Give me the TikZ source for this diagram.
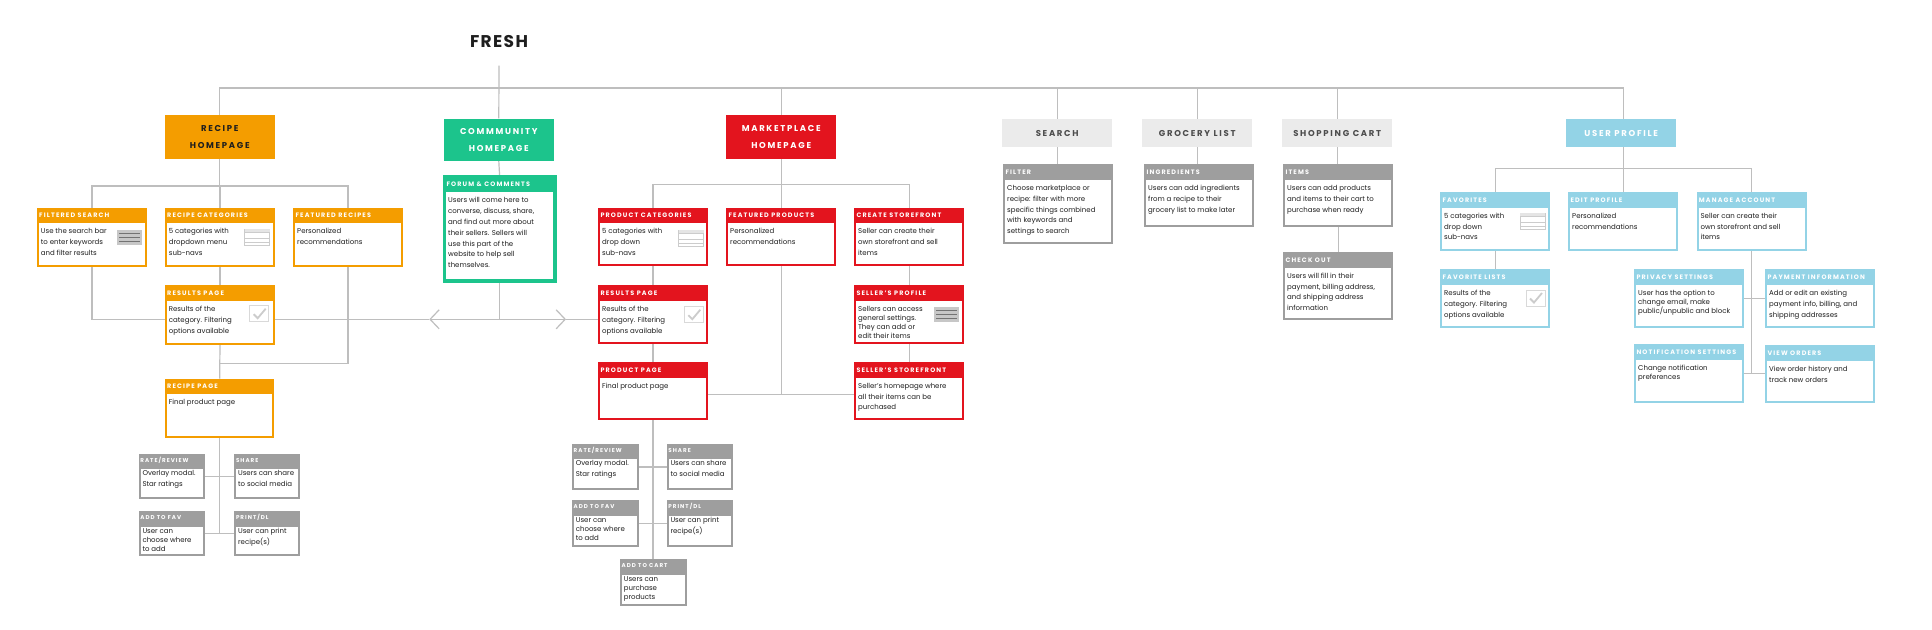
\documentclass[tikz,border=0pt]{standalone}
\usepackage{fontspec}
\setmainfont{Poppins}
\newfontfamily\hdfont[LetterSpace=18]{Poppins}
\newfontfamily\navfont[LetterSpace=20]{Poppins}
\newfontfamily\brandfont[LetterSpace=8]{Poppins}
\usetikzlibrary{positioning}
\usetikzlibrary{arrows.meta}
\usetikzlibrary{backgrounds}
\definecolor{fshorange}{HTML}{F49D00}
\definecolor{fshgreen}{HTML}{1CC48C}
\definecolor{fshred}{HTML}{E3141E}
\definecolor{fshblue}{HTML}{93D3E6}
\definecolor{fshgray}{HTML}{9E9E9E}
\definecolor{fshlight}{HTML}{EBEBEB}
\definecolor{fshline}{HTML}{BEBEBE}
\definecolor{fshtext}{HTML}{1E1E1E}

\newcommand\bodyfont{\fontsize{7}{10.8}\selectfont}
\newcommand\tightfont{\fontsize{7}{9}\selectfont}
\newcommand\cardtitlefont{\hdfont\bfseries\fontsize{6.4}{7}\selectfont}
\newcommand\tinytitlefont{\hdfont\bfseries\fontsize{5.6}{6}\selectfont}
\newcommand\homefont{\navfont\bfseries\fontsize{8.5}{16.8}\selectfont}

% name, colour, x, y, width, height (outer, in px), title, body
\newcommand\bigcard[9][]{%
  \node[card=#3, minimum width=#6pt-2pt, minimum height=#7pt-2pt] (#2) at (#4+1,#5+1) {};
  \node[cardtitle] (#2-t) at ([shift={(2,10)}]#2.north west) {#8};
  \node[cardbody,#1] (#2-b) at ([shift={(3.7,20)}]#2.north west) {\rule{0pt}{6pt}#9};
}
\newcommand\smallcard[9][]{%
  \node[card=#3, minimum width=#6pt-2pt, minimum height=#7pt-2pt] (#2) at (#4+1,#5+1) {};
  \node[cardtitle, font=\tinytitlefont] (#2-t) at ([shift={(1.5,8.3)}]#2.north west) {#8};
  \node[cardbody,#1] (#2-b) at ([shift={(3.6,16)}]#2.north west) {\rule{0pt}{6pt}#9};
}

\begin{document}
\begin{tikzpicture}[%
  x=1pt, y=-1pt,
  chev/.tip={Straight Barb[length=9pt, width=19pt]},
  link/.style={draw=fshline, line width=1.2pt},
  homebox/.style={fill=#1, anchor=north west, inner sep=0pt, align=center,
    minimum width=110pt, font=\homefont},
  card/.style={draw=#1, fill=white, line width=2pt, anchor=north west, inner sep=0pt,
    path picture={\fill[#1] (path picture bounding box.north west)
      rectangle ([yshift=-14.6pt]path picture bounding box.north east);}},
  cardtitle/.style={anchor=base west, inner sep=0pt, text=white, font=\cardtitlefont},
  cardbody/.style={anchor=north west, inner sep=0pt, align=left, text=fshtext, font=\bodyfont},
  baricon/.pic={
    \fill[black!22] (0,0) rectangle (25,15);
    \draw[black!55, line width=1.4pt] (2,3.5) -- (23,3.5) (2,7.5) -- (23,7.5) (2,11.5) -- (23,11.5);
  },
  tableicon/.pic={
    \draw[black!20, line width=0.8pt, fill=white] (0,0) rectangle (25,16);
    \fill[black!10] (0,0) rectangle (25,3.5);
    \draw[black!20, line width=0.8pt] (0,3.5) -- (25,3.5) (0,9) -- (25,9) (0,13) -- (25,13);
  },
  checkicon/.pic={
    \draw[black!15, line width=1pt] (0,0) rectangle (19,16);
    \draw[black!20, line width=1.8pt] (4,8.5) -- (8,12.5) -- (16,3);
  },
]
  \useasboundingbox (0,0) rectangle (1932,629);

  \node[font=\brandfont\bfseries\fontsize{17}{20}\selectfont, text=fshtext] (fresh) at (499,42) {FRESH};

  \node[homebox=fshorange, minimum height=43.3pt, text=fshtext] (recipehome) at (164.6,115) {RECIPE\\HOMEPAGE};
  \node[homebox=fshgreen, minimum height=42.4pt, text=white] (commhome) at (443.6,118.3) {COMMMUNITY\\HOMEPAGE};
  \node[homebox=fshred, minimum height=43.3pt, text=white] (markethome) at (726,115) {MARKETPLACE\\HOMEPAGE};
  \node[homebox=fshlight, minimum height=27.7pt, text=black!70] (search) at (1002,119) {SEARCH};
  \node[homebox=fshlight, minimum height=27.7pt, text=black!70] (grocery) at (1142,119) {GROCERY LIST};
  \node[homebox=fshlight, minimum height=27.7pt, text=black!70] (cart) at (1282,119) {SHOPPING CART};
  \node[homebox=fshblue, minimum height=27.7pt, text=white] (userhome) at (1566,119) {USER PROFILE};

  \bigcard{fsearch}{fshorange}{36}{206.7}{110}{59.3}{FILTERED SEARCH}{Use the search bar\\to enter keywords\\and filter results}
  \bigcard{rcats}{fshorange}{164}{206.7}{110}{59.3}{RECIPE CATEGORIES}{5 categories with\\dropdown menu\\sub-navs}
  \bigcard{frecipes}{fshorange}{292.3}{206.7}{109.4}{59.3}{FEATURED RECIPES}{Personalized\\recommendations}
  \bigcard{rresults}{fshorange}{164}{284.3}{110}{59.7}{RESULTS PAGE}{Results of the\\category. Filtering\\options available}
  \bigcard{rpage}{fshorange}{164}{377.7}{109.3}{59}{RECIPE PAGE}{Final product page}
  \smallcard{rrate}{fshgray}{137.7}{452.7}{66.3}{45.6}{RATE/REVIEW}{Overlay modal.\\Star ratings}
  \smallcard{rshare}{fshgray}{233.3}{452.7}{65.7}{45.6}{SHARE}{Users can share\\to social media}
  \smallcard[font=\tightfont]{rfav}{fshgray}{137.7}{510}{66.3}{45}{ADD TO FAV}{User can\\choose where\\to add}
  \smallcard{rprint}{fshgray}{233.3}{510}{65.7}{45}{PRINT/DL}{User can print\\recipe(s)}

  \bigcard{forum}{fshgreen}{443.3}{175.7}{110.7}{104.3}{FORUM \& COMMENTS}{Users will come here to\\converse, discuss, share,\\and find out more about\\their sellers. Sellers will\\use this part of the\\website to help sell\\themselves.}
  \draw[fshgreen, line width=3pt] (forum.north west) rectangle (forum.south east);

  \bigcard{mcats}{fshred}{597.3}{206.7}{109.4}{58.3}{PRODUCT CATEGORIES}{5 categories with\\drop down\\sub-navs}
  \bigcard{mfeat}{fshred}{725.3}{206.7}{109.7}{58.3}{FEATURED PRODUCTS}{Personalized\\recommendations}
  \bigcard{mcreate}{fshred}{853.3}{206.7}{110}{58.3}{CREATE STOREFRONT}{Seller can create their\\own storefront and sell\\items}
  \bigcard{mresults}{fshred}{597.3}{284.3}{109.4}{58.4}{RESULTS PAGE}{Results of the\\category. Filtering\\options available}
  \bigcard{mpage}{fshred}{597.3}{361}{109.4}{58.3}{PRODUCT PAGE}{Final product page}
  \bigcard[font=\tightfont]{mprofile}{fshred}{853.3}{284.3}{110}{58.4}{SELLER’S PROFILE}{Sellers can access\\general settings.\\They can add or\\edit their items}
  \bigcard{mstore}{fshred}{853.3}{361}{110}{58.3}{SELLER’S STOREFRONT}{Seller’s homepage where\\all their items can be\\purchased}
  \smallcard{mrate}{fshgray}{571}{442.7}{66.7}{46.6}{RATE/REVIEW}{Overlay modal.\\Star ratings}
  \smallcard{mshare}{fshgray}{665.7}{442.7}{66.6}{46.6}{SHARE}{Users can share\\to social media}
  \smallcard[font=\tightfont]{mfav}{fshgray}{571}{499.3}{66.7}{46.7}{ADD TO FAV}{User can\\choose where\\to add}
  \smallcard{mprint}{fshgray}{665.7}{499.3}{66.6}{46.7}{PRINT/DL}{User can print\\recipe(s)}
  \smallcard[font=\tightfont]{madd}{fshgray}{619}{558.3}{66.7}{46.7}{ADD TO CART}{Users can\\purchase\\products}

  \bigcard{filter}{fshgray}{1002.3}{163.3}{110}{79.4}{FILTER}{Choose marketplace or\\recipe: filter with more\\specific things combined\\with keywords and\\settings to search}
  \bigcard{ingred}{fshgray}{1143.3}{163.3}{110}{62.4}{INGREDIENTS}{Users can add ingredients\\from a recipe to their\\grocery list to make later}
  \bigcard{items}{fshgray}{1282.3}{163.3}{110}{62.4}{ITEMS}{Users can add products\\and items to their cart to\\purchase when ready}
  \bigcard{checkout}{fshgray}{1282.3}{251}{110}{68.3}{CHECK OUT}{Users will fill in their\\payment, billing address,\\and shipping address\\information}

  \bigcard{ufav}{fshblue}{1439.3}{191}{110}{59}{FAVORITES}{5 categories with\\drop down\\sub-navs}
  \bigcard{uedit}{fshblue}{1567.3}{191}{110}{59}{EDIT PROFILE}{Personalized\\recommendations}
  \bigcard{umanage}{fshblue}{1695.7}{191}{110}{59}{MANAGE ACCOUNT}{Seller can create their\\own storefront and sell\\items}
  \bigcard{ulists}{fshblue}{1439.3}{268.3}{110}{59}{FAVORITE LISTS}{Results of the\\category. Filtering\\options available}
  \bigcard[font=\tightfont]{uprivacy}{fshblue}{1633.3}{268.3}{109.4}{59}{PRIVACY SETTINGS}{User has the option to\\change email, make\\public/unpublic and block}
  \bigcard{upay}{fshblue}{1764.3}{268.3}{109.7}{59}{PAYMENT INFORMATION}{Add or edit an existing\\payment info, billing, and\\shipping addresses}
  \bigcard[font=\tightfont]{unotif}{fshblue}{1633.3}{343.3}{109.4}{59}{NOTIFICATION SETTINGS}{Change notification\\preferences}
  \bigcard{uorders}{fshblue}{1764.3}{344}{109.7}{58.3}{VIEW ORDERS}{View order history and\\track new orders}

  \pic at ([shift={(-30,22.3)}]fsearch.north east) {baricon};
  \pic at ([shift={(-30.3,21.3)}]rcats.north east) {tableicon};
  \pic at ([shift={(-25.3,20.4)}]rresults.north east) {checkicon};
  \pic at ([shift={(-29,22.3)}]mcats.north east) {tableicon};
  \pic at ([shift={(-23.4,21.4)}]mresults.north east) {checkicon};
  \pic at ([shift={(-30,21.4)}]mprofile.north east) {baricon};
  \pic at ([shift={(-30,21.3)}]ufav.north east) {tableicon};
  \pic at ([shift={(-24.3,20.7)}]ulists.north east) {checkicon};

  \coordinate (topbus) at (0,88);
  \coordinate (recbus) at (0,186);
  \coordinate (mktbus) at (0,184.3);
  \coordinate (usrbus) at (0,168.3);
  \coordinate (midline) at (0,319.3);
  \coordinate (featjoin) at (0,363.3);
  \coordinate (mktjoin) at (0,394.3);
  \coordinate (chevL) at (429.3,319.3);
  \coordinate (chevR) at (566,319.3);

  \begin{scope}[on background layer]
    \fill[white] (0,0) rectangle (1932,629);

    \draw[link] ([yshift=-14pt]fresh.south) -- (commhome.north);
    \draw[link] (recipehome.north) -- (recipehome.north |- topbus) -- (uedit.north |- topbus) -- (uedit.north |- userhome.north);
    \draw[link] (markethome.north) -- (markethome.north |- topbus);
    \draw[link] (search.north) -- (search.north |- topbus);
    \draw[link] (grocery.north) -- (grocery.north |- topbus);
    \draw[link] (cart.north) -- (cart.north |- topbus);

    \draw[link] (recipehome.south) -- (recipehome.south |- recbus);
    \draw[link] (fsearch.north) -- (fsearch.north |- recbus) -- (frecipes.north |- recbus) -- (frecipes.north);
    \draw[link] (rcats.north) -- (rcats.north |- recbus);
    \draw[link] (rcats.south) -- (rresults.north);
    \draw[link] (rresults.south) -- (rpage.north);
    \draw[link] (fsearch.south) |- (rresults.west |- midline);
    \draw[link] (frecipes.south) |- (rpage.north |- featjoin);
    \draw[link] (rpage.south) -- (rpage.south |- rfav.east);
    \draw[link] (rrate.east) -- (rshare.west);
    \draw[link] (rfav.east) -- (rprint.west);

    \draw[link] (commhome.south) -- (forum.north);
    \draw[link] (forum.south) -- (forum.south |- midline);
    \draw[link] (rresults.east |- midline) -- (chevL);
    \draw[link, {chev}-{chev}] (chevL) -- (chevR);
    \draw[link] (chevR) -- (mresults.west |- midline);

    \draw[link] (markethome.south) -- (markethome.south |- mfeat.north);
    \draw[link] (mcats.north) -- (mcats.north |- mktbus) -- (mcreate.north |- mktbus) -- (mcreate.north);
    \draw[link] (mcats.south) -- (mresults.north);
    \draw[link] (mresults.south) -- (mpage.north);
    \draw[link] (mcreate.south) -- (mprofile.north);
    \draw[link] (mprofile.south) -- (mstore.north);
    \draw[link] (mfeat.south) -- (mfeat.south |- mktjoin);
    \draw[link] (mpage.east |- mktjoin) -- (mstore.west |- mktjoin);
    \draw[link] (mpage.south) -- (mpage.south |- madd.north);
    \draw[link] (mrate.east) -- (mshare.west);
    \draw[link] (mfav.east) -- (mprint.west);

    \draw[link] (search.south) -- (search.south |- filter.north);
    \draw[link] (grocery.south) -- (grocery.south |- ingred.north);
    \draw[link] (cart.south) -- (cart.south |- items.north);
    \draw[link] (items.south) -- (checkout.north);

    \draw[link] (uedit.north |- userhome.south) -- (uedit.north);
    \draw[link] (ufav.north) -- (ufav.north |- usrbus) -- (umanage.north |- usrbus) -- (umanage.north);
    \draw[link] (ufav.south) -- (ulists.north);
    \draw[link] (umanage.south) -- (umanage.south |- unotif.east);
    \draw[link] (uprivacy.east) -- (upay.west);
    \draw[link] (unotif.east) -- (unotif.east -| upay.west);
  \end{scope}
\end{tikzpicture}
\end{document}
